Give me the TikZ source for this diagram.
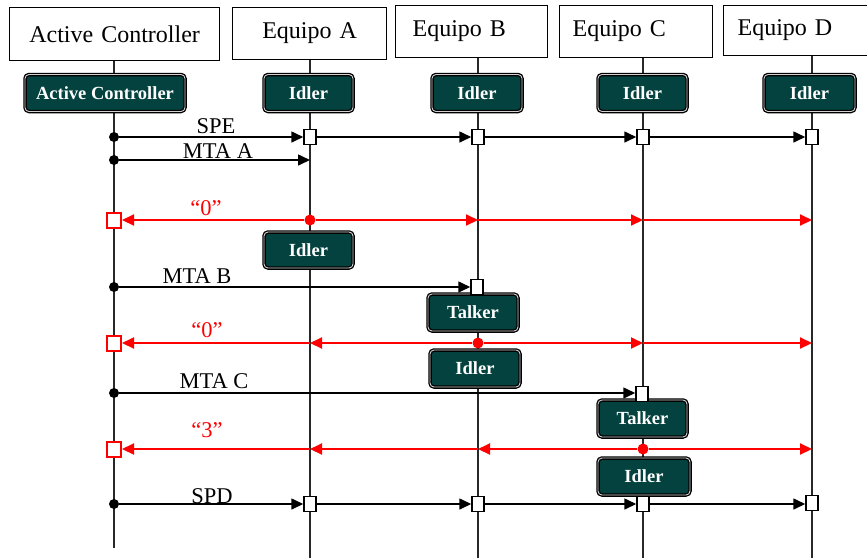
\documentclass[tikz,border=0pt]{standalone}
\usepackage{fontspec}
\setmainfont{Liberation Serif}
\usetikzlibrary{arrows.meta}
\definecolor{stt}{RGB}{3,66,63}
\definecolor{lifec}{RGB}{40,40,40}
\begin{document}
\begin{tikzpicture}[x=1pt,y=-1pt,
 hdr/.style={draw=black, line width=1.2pt, fill=white, inner ysep=0pt, anchor=north west, font=\fontsize{24}{26}\selectfont},
 stbox/.style={fill=stt, draw=black, line width=1.3pt, double=gray!35, double distance=0.9pt, rounded corners=4pt, inner sep=0pt, text=white, font=\bfseries\fontsize{18.5}{20}\selectfont, minimum height=37pt},
 life/.style={draw=lifec, line width=1.6pt},
 msg/.style={draw=black, line width=1.6pt},
 rmsg/.style={draw=red, line width=2pt},
 tip/.style={-{Triangle[length=12pt,width=11pt]}},
 sq/.style={draw=black, fill=white, line width=1.5pt, minimum width=12pt, minimum height=15pt, inner sep=0pt},
 rsq/.style={sq, draw=red, line width=2pt, minimum width=14pt, minimum height=15pt},
 mdot/.style={circle, fill=black, inner sep=0pt, minimum size=10pt},
 rdot/.style={mdot, fill=red, minimum size=11pt},
 lbl/.style={anchor=base, font=\fontsize{22.5}{24}\selectfont, inner sep=0pt},
 rlbl/.style={lbl, text=red},
]
\useasboundingbox (0,0) rectangle (867,558);

% headers
\node[hdr, minimum width=210pt, minimum height=53pt, text width=210pt, inner xsep=0pt, align=center] (hAC) at (9,7) {Active Controller};
\node[hdr, minimum width=154pt, minimum height=52pt, text width=154pt, inner xsep=0pt, align=center] (hA) at (232,7) {Equipo A};
\node[hdr, minimum width=152pt, minimum height=52pt, text width=118pt, inner xsep=17pt, align=left] (hB) at (395,5) {Equipo B};
\node[hdr, minimum width=153pt, minimum height=52pt, text width=127pt, inner xsep=13pt, align=left] (hC) at (559,5) {Equipo C};
\node[hdr, minimum width=160pt, minimum height=50pt, text width=132pt, inner xsep=14pt, align=left] (hD) at (723,5) {Equipo D};

% lifelines
\coordinate (eAC) at (114,548);
\coordinate (eA) at (310,558);
\coordinate (eB) at (478,558);
\coordinate (eC) at (643,558);
\coordinate (eD) at (812,558);
\draw[life] (hAC.south -| eAC) -- (eAC);
\draw[life] (hA.south -| eA) -- (eA);
\draw[life] (hB.south -| eB) -- (eB);
\draw[life] (hC.south -| eC) -- (eC);
\draw[life] (hD.south -| eD) -- (eD);

% state boxes
\node[stbox, minimum width=160pt] (sAC) at (105,93) {Active Controller};
\node[stbox, minimum width=89pt] (sA1) at (308.5,93) {Idler};
\node[stbox, minimum width=90pt] (sB1) at (477,93) {Idler};
\node[stbox, minimum width=89pt] (sC1) at (642.5,93) {Idler};
\node[stbox, minimum width=91pt] (sD1) at (809.5,93) {Idler};
\node[stbox, minimum width=89pt, minimum height=36pt] (sA2) at (308.5,250) {Idler};
\node[stbox, minimum width=90pt] (sB2) at (473,312.5) {Talker};
\node[stbox, minimum width=90pt] (sB3) at (475,368.5) {Idler};
\node[stbox, minimum width=89pt] (sC2) at (642.5,418.5) {Talker};
\node[stbox, minimum width=92pt] (sC3) at (644,476.5) {Idler};

% SPE
\node[mdot] (d1) at (114,137) {};
\node[sq] (q1A) at (310,137) {};
\node[sq] (q1B) at (478,137) {};
\node[sq] (q1C) at (643,137) {};
\node[sq] (q1D) at (812,137) {};
\draw[msg,tip] (d1) -- (q1A.west);
\draw[msg,tip] (q1A.east) -- (q1B.west);
\draw[msg,tip] (q1B.east) -- (q1C.west);
\draw[msg,tip] (q1C.east) -- (q1D.west);
\node[lbl] (lSPE) at (216,133) {SPE};

% MTA A
\node[mdot] (d2) at (114,160) {};
\coordinate (t2) at (310,160);
\draw[msg,tip] (d2) -- (t2);
\node[lbl] (lMTAA) at (218,158.5) {MTA A};

% red 1
\node[rsq] (r1AC) at (114,220) {};
\node[rdot] (r1A) at (310,220) {};
\coordinate (r1B) at (478,220);
\coordinate (r1C) at (643,220);
\coordinate (r1D) at (812,220);
\draw[rmsg,tip] (r1A) -- (r1AC.east);
\draw[rmsg,tip] (r1A) -- (r1B);
\draw[rmsg,tip] (r1B) -- (r1C);
\draw[rmsg,tip] (r1C) -- (r1D);
\node[rlbl] (l0a) at (206,215) {“0”};

% MTA B
\node[mdot] (d3) at (114,287) {};
\node[sq] (q3B) at (477,287) {};
\draw[msg,tip] (d3) -- (q3B.west);
\node[lbl] (lMTAB) at (197,283) {MTA B};

% red 2
\node[rsq] (r2AC) at (114,343) {};
\coordinate (r2A) at (310,343);
\node[rdot] (r2B) at (478,343) {};
\coordinate (r2C) at (643,343);
\coordinate (r2D) at (812,343);
\draw[rmsg,tip] (r2A) -- (r2AC.east);
\draw[rmsg,tip] (r2B) -- (r2A);
\draw[rmsg,tip] (r2B) -- (r2C);
\draw[rmsg,tip] (r2C) -- (r2D);
\node[rlbl] (l0b) at (207,337) {“0”};

% MTA C
\node[mdot] (d4) at (114,393) {};
\node[sq] (q4C) at (642,394) {};
\draw[msg,tip] (d4) -- (q4C.west |- d4);
\node[lbl] (lMTAC) at (214,388) {MTA C};

% red 3
\node[rsq] (r3AC) at (114,449) {};
\coordinate (r3A) at (310,449);
\coordinate (r3B) at (478,449);
\node[rdot] (r3C) at (643,449) {};
\coordinate (r3D) at (812,449);
\draw[rmsg,tip] (r3A) -- (r3AC.east);
\draw[rmsg,tip] (r3B) -- (r3A);
\draw[rmsg,tip] (r3C) -- (r3B);
\draw[rmsg,tip] (r3C) -- (r3D);
\node[rlbl] (l3) at (207,437) {“3”};

% SPD
\node[mdot] (d5) at (114,504) {};
\node[sq] (q5A) at (310,504) {};
\node[sq] (q5B) at (478,504) {};
\node[sq] (q5C) at (643,504) {};
\node[sq] (q5D) at (812,503) {};
\draw[msg,tip] (d5) -- (q5A.west);
\draw[msg,tip] (q5A.east) -- (q5B.west);
\draw[msg,tip] (q5B.east) -- (q5C.west);
\draw[msg,tip] (q5C.east) -- (q5D.west |- q5C);
\node[lbl] (lSPD) at (212,503) {SPD};
\end{tikzpicture}
\end{document}
